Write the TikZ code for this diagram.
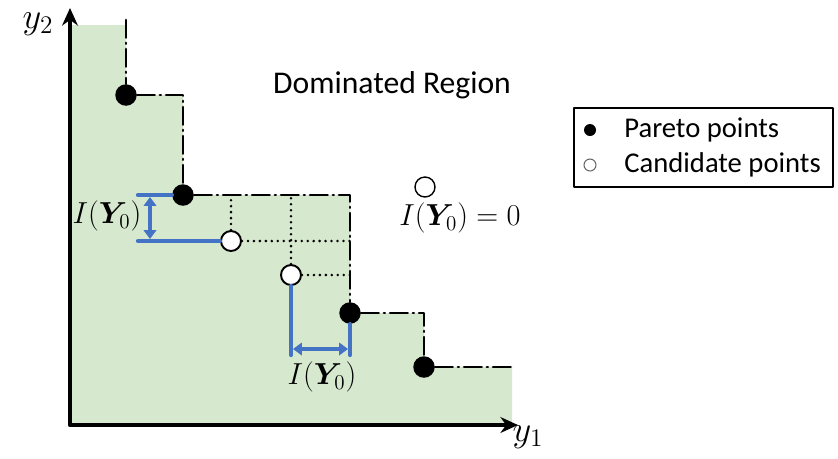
\documentclass[tikz,border=0pt]{standalone}
\usepackage{bm}
\usepackage{fontspec}
\setsansfont{Carlito}
\usetikzlibrary{arrows.meta}
\definecolor{domgreen}{RGB}{214,232,206}
\definecolor{gapblue}{RGB}{68,114,196}

\begin{document}
\begin{tikzpicture}[x=0.02cm, y=-0.02cm, >=Stealth, line cap=round, line join=round,
  pareto/.style={circle, fill=black, inner sep=0pt, minimum size=0.43cm},
  cand/.style={circle, draw=black, fill=white, line width=1.1pt, inner sep=0pt, minimum size=0.4cm},
  front/.style={line width=1.6pt, dash pattern=on 10pt off 3pt on 0.5pt off 3pt},
  dotgrid/.style={line width=1.6pt, dash pattern=on 0pt off 3.4pt},
  gapline/.style={line width=2.4pt, draw=gapblue},
  gaparrow/.style={line width=2pt, draw=gapblue, {Triangle[length=5pt,width=7pt]}-{Triangle[length=5pt,width=7pt]}},
  lbl/.style={font=\fontsize{17.5}{21}\selectfont},
  axlbl/.style={font=\fontsize{20}{24}\selectfont, inner sep=0pt},
  txt/.style={font=\sffamily\fontsize{18}{21}\selectfont, inner sep=0pt}]

\useasboundingbox (0,0) rectangle (838,458);

% dominated region
\fill[domgreen] (70,25) -- (126,25) -- (126,95) -- (183,95) -- (183,195) -- (350,195)
  -- (350,313) -- (424,313) -- (424,367) -- (512,367) -- (512,425) -- (70,425) -- cycle;

% axes
\coordinate (o) at (70,425);
\coordinate (ytip) at (70,8);
\coordinate (xtip) at (518,425);
\draw[line width=2.4pt, {Stealth[length=10pt,width=9pt]}-{Stealth[length=10pt,width=9pt]}] (ytip) -- (o) -- (xtip);
\node[axlbl] (y2) at (38,24) {$y_2$};
\node[axlbl] (y1) at (528,437) {$y_1$};

% points
\node[pareto] (p1) at (126,95) {};
\node[pareto] (p2) at (183,195) {};
\node[pareto] (p3) at (350,313) {};
\node[pareto] (p4) at (424,367) {};
\node[cand] (c1) at (231,241) {};
\node[cand] (c2) at (291,275) {};
\node[cand, line width=0.8pt] (c0) at (425,187) {};

% pareto front
\coordinate (ftop) at (126,20);
\coordinate (fend) at (512,367);
\draw[front] (ftop) -- (p1) -- (p1 -| p2) -- (p2) -- (p2 -| p3) -- (p3) -- (p3 -| p4) -- (p4) -- (fend);

% dotted projections
\draw[dotgrid] (c1) -- (c1 |- p2);
\draw[dotgrid] (c1) -- (c1 -| p3);
\draw[dotgrid] (c2) -- (c2 |- p2);
\draw[dotgrid] (c2) -- (c2 -| p3);

% improvements
\coordinate (g1a) at (138,195);
\coordinate (g1b) at (138,241);
\draw[gapline] (g1a) -- (p2);
\draw[gapline] (g1b) -- (c1);
\coordinate (a1t) at (150,197);
\coordinate (a1b) at (150,239);
\draw[gaparrow] (a1t) -- (a1b);

\coordinate (g2a) at (291,355);
\draw[gapline] (c2) -- (g2a);
\draw[gapline] (p3) -- (p3 |- g2a);
\coordinate (a2l) at (293,349);
\coordinate (a2r) at (348,349);
\draw[gaparrow] (a2l) -- (a2r);

\node[lbl] (gap1) at (107,216) {$I(\bm{Y}_0)$};
\node[lbl] (gap2) at (322,377) {$I(\bm{Y}_0)$};
\node[lbl] (gap0) at (460,218) {$I(\bm{Y}_0)=0$};
\node[txt] (dom) at (392,85) {Dominated Region};

% legend
\node[draw, line width=1.1pt, minimum width=5.18cm, minimum height=1.58cm, inner sep=0pt] (legend) at (703.5,147.5) {};
\node[circle, fill=black, inner sep=0pt, minimum size=0.24cm] (lp) at (590,130) {};
\node[txt, anchor=west, font=\sffamily\fontsize{16.3}{19}\selectfont] (lpt) at (624,130) {Pareto points};
\node[circle, draw=black!60, line width=0.6pt, inner sep=0pt, minimum size=0.24cm] (lc) at (590,165) {};
\node[txt, anchor=west, font=\sffamily\fontsize{16.3}{19}\selectfont] (lct) at (624,165) {Candidate points};

\end{tikzpicture}
\end{document}
